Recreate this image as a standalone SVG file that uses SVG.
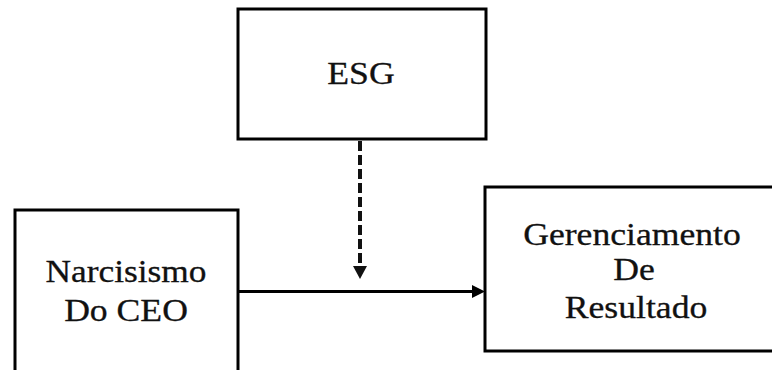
<svg xmlns="http://www.w3.org/2000/svg" width="772" height="370" viewBox="0 0 772 370">
<style>
.box{fill:#fff;stroke:#000;stroke-width:3}
.t{font-family:"Liberation Serif","Times New Roman",serif;font-size:31px;fill:#111;stroke:#111;stroke-width:0.3;text-anchor:middle}
.ln{stroke:#000;stroke-width:3;fill:none}
.dash{stroke:#111;stroke-width:4;fill:none;stroke-dasharray:10 4}
</style>
<rect width="772" height="370" fill="#fff"/>
<g id="esg">
<rect class="box" x="238" y="9" width="248" height="130"/>
<text class="t" transform="translate(361,84) scale(1.15,1)">ESG</text>
</g>
<g id="narcisismo">
<rect class="box" x="15" y="210" width="223" height="175"/>
<text class="t" transform="translate(126,282) scale(1.14,1)">Narcisismo</text>
<text class="t" transform="translate(126,321) scale(1.15,1)">Do CEO</text>
</g>
<g id="gerenciamento">
<rect class="box" x="485" y="187" width="300" height="164"/>
<text class="t" transform="translate(632,245) scale(1.15,1)">Gerenciamento</text>
<text class="t" transform="translate(634,280) scale(1.15,1)">De</text>
<text class="t" transform="translate(636,318) scale(1.15,1)">Resultado</text>
</g>
<g id="connectors">
<line class="dash" x1="360" y1="141" x2="360" y2="267"/>
<polygon points="353,266 367,266 360,279" fill="#111"/>
<line class="ln" x1="238" y1="291.5" x2="474" y2="291.5"/>
<polygon points="472,285 485,291.5 472,298" fill="#000"/>
</g>
</svg>
